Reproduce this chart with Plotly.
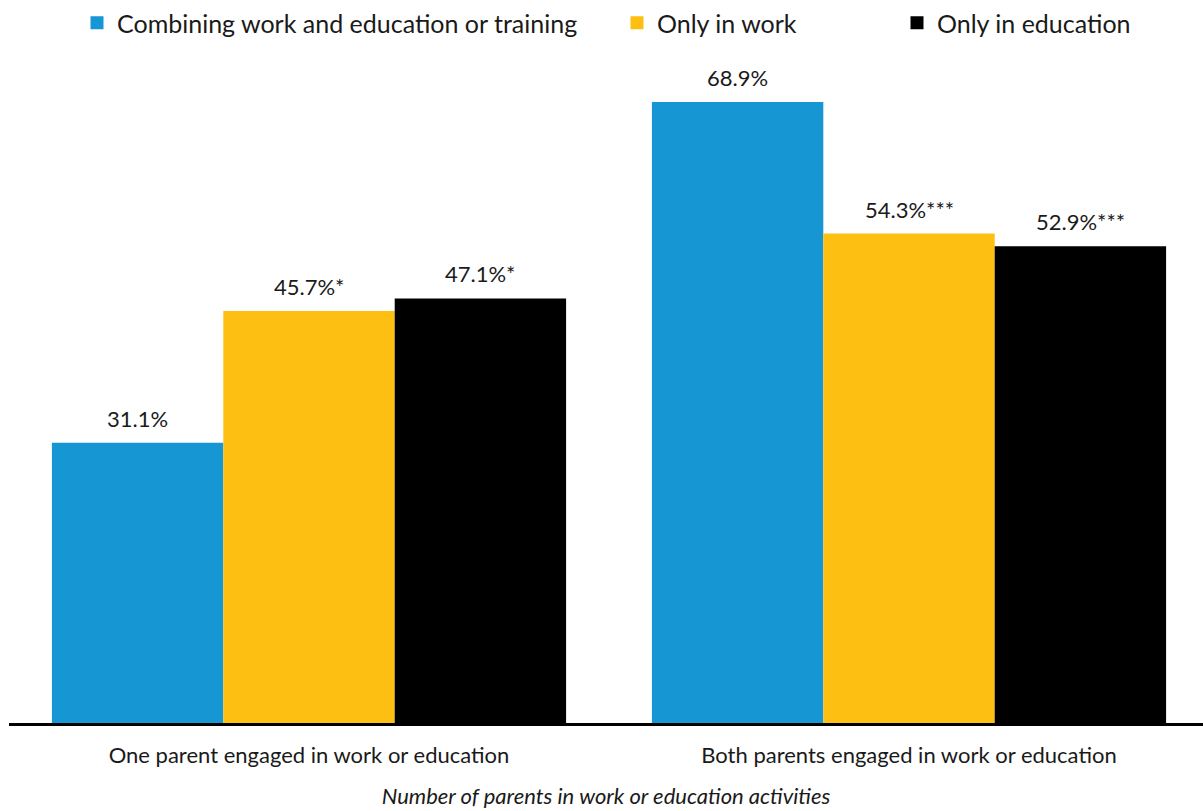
import plotly.graph_objects as go

categories = ["One parent engaged in work or education", "Both parents engaged in work or education"]
series_names = ["Combining work and education or training", "Only in work", "Only in education"]
combining = [31.1, 68.9]
only_work = [45.7, 54.3]
only_edu = [47.1, 52.9]
significance = [["", ""], ["*", "***"], ["*", "***"]]
colors = ["#1696d2", "#fdbf11", "#000000"]

values = [combining, only_work, only_edu]
bargap = 0.143
n = len(values)
bar_w = (1 - bargap) / n

W, H = 1203, 811
legend_ids = ["legend", "legend2", "legend3"]
legend_left_px = [77, 617, 897]

fig = go.Figure()
for s, (name, vals, col) in enumerate(zip(series_names, values, colors)):
    fig.add_trace(go.Bar(
        name=name, x=categories, y=vals, marker=dict(color=col, line=dict(width=0)),
        showlegend=False,
    ))
    # legend key: square marker
    fig.add_trace(go.Scatter(
        name=name, x=[None], y=[None], mode="markers",
        marker=dict(symbol="square", size=13, color=col),
        legend=legend_ids[s], showlegend=True,
    ))

# value labels above each bar
annotations = []
for s, vals in enumerate(values):
    offset = (s - (n - 1) / 2) * bar_w
    for c, v in enumerate(vals):
        txt = f"{v:.1f}%" + significance[s][c]
        annotations.append(dict(
            x=c + offset, y=v, xref="x", yref="y", text=txt, showarrow=False,
            yanchor="bottom", yshift=9, font=dict(size=22, color="#1a1a1a"),
        ))

legend_style = dict(orientation="h", xanchor="left", y=1.0, yanchor="top",
                    yref="container", xref="container", font=dict(size=25),
                    itemsizing="trace", bgcolor="rgba(0,0,0,0)", borderwidth=0)
layout_legends = {
    lid: dict(legend_style, x=px / W) for lid, px in zip(legend_ids, legend_left_px)
}

fig.update_layout(
    width=W, height=H,
    barmode="group", bargap=bargap, bargroupgap=0,
    plot_bgcolor="white", paper_bgcolor="white",
    font=dict(family="Lato", color="#1a1a1a"),
    margin=dict(l=9, r=0, t=50, b=88),
    annotations=annotations,
    xaxis=dict(
        range=[-0.5, 1.49], showline=True, linecolor="black", linewidth=2.5,
        ticks="", tickfont=dict(size=22), ticklabelstandoff=11,
        title=dict(text="<i>Number of parents in work or education activities</i>",
                   font=dict(size=22), standoff=22),
    ),
    yaxis=dict(range=[0, 74.67], visible=False, showgrid=False),
    **layout_legends,
)

fig.write_html("out.html")
